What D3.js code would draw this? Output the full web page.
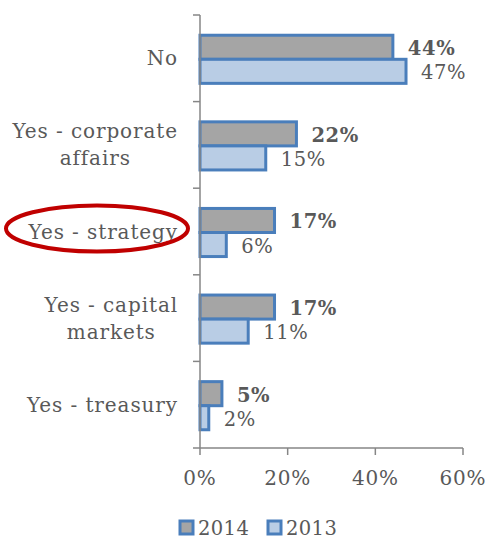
<!DOCTYPE html>
<html>
<head>
<meta charset="utf-8">
<script src="https://cdn.jsdelivr.net/npm/d3@7"></script>
<style>
  html, body { margin: 0; padding: 0; background: #fff; }
  svg text { font-family: "DejaVu Serif", "Liberation Serif", serif; fill: #595959; }
</style>
</head>
<body>
<svg id="chart" width="489" height="539"></svg>
<script>
// Survey answers, top to bottom
const categories = ["No", "Yes - corporate affairs", "Yes - strategy", "Yes - capital markets", "Yes - treasury"];
// Two-line wrapping of the category labels
const categoryLines = [["No"], ["Yes - corporate", "affairs"], ["Yes - strategy"], ["Yes - capital", "markets"], ["Yes - treasury"]];
const seriesNames = ["2014", "2013"];
const values2014 = [44, 22, 17, 17, 5];
const values2013 = [47, 15, 6, 11, 2];
const xTicks = [0, 20, 40, 60];
const highlighted = "Yes - strategy";

const svg = d3.select("#chart");
const fills = { "2014": "#a5a5a5", "2013": "#b9cde5" };
const strokeColor = "#4a7ebb";
const axisColor = "#868686";

const margin = { left: 200, right: 26, top: 15, bottom: 91 };
const W = 489, H = 539;

const x = d3.scaleLinear().domain([0, 60]).range([margin.left, W - margin.right]);
const y0 = d3.scaleBand().domain(categories).range([margin.top, H - margin.bottom]).padding(0);
const y1 = d3.scaleBand().domain(seriesNames).range([0, y0.bandwidth()]).paddingInner(0).paddingOuter(0.8);

const rows = categories.map((c, i) => ({
  cat: c,
  lines: categoryLines[i],
  vals: [
    { s: "2014", v: values2014[i] },
    { s: "2013", v: values2013[i] }
  ]
}));

// Bars
const g = svg.append("g");
const grp = g.selectAll("g.cat").data(rows).join("g")
  .attr("transform", d => `translate(0,${y0(d.cat) + 1})`);

grp.selectAll("rect").data(d => d.vals).join("rect")
  .attr("x", x(0))
  .attr("y", d => y1(d.s))
  .attr("width", d => x(d.v) - x(0))
  .attr("height", y1.bandwidth())
  .attr("fill", d => fills[d.s])
  .attr("stroke", strokeColor)
  .attr("stroke-width", 3);

// Value labels
grp.selectAll("text.val").data(d => d.vals).join("text")
  .attr("class", "val")
  .attr("x", d => x(d.v) + 15)
  .attr("y", d => y1(d.s) + y1.bandwidth() / 2 + 8)
  .attr("font-size", 19.5)
  .attr("letter-spacing", 0.6)
  .attr("font-weight", d => d.s === "2014" ? "bold" : "normal")
  .text(d => d.v + "%");

// Y axis line and ticks
const yAxis = svg.append("g");
yAxis.append("line")
  .attr("x1", x(0)).attr("x2", x(0))
  .attr("y1", margin.top).attr("y2", H - margin.bottom)
  .attr("stroke", axisColor).attr("stroke-width", 1.5);
yAxis.selectAll("line.tick").data(categories.map(c => y0(c))).join("line")
  .attr("class", "tick")
  .attr("x1", x(0) - 7).attr("x2", x(0))
  .attr("y1", d => d).attr("y2", d => d)
  .attr("stroke", axisColor).attr("stroke-width", 1.5);

// Category labels: block right-aligned to the axis, lines centred within the block
const labelRight = 178;
const catLabels = svg.append("g").selectAll("text").data(rows).join("text")
  .attr("text-anchor", "middle")
  .attr("font-size", 20)
  .attr("letter-spacing", 0.9)
  .attr("y", d => y0(d.cat) + y0.bandwidth() / 2 + 7 - (d.lines.length - 1) * 13.5);
catLabels.selectAll("tspan").data(d => d.lines).join("tspan")
  .attr("dy", (d, i) => i === 0 ? 0 : 27)
  .text(d => d);
catLabels.each(function () {
  const spans = d3.select(this).selectAll("tspan");
  let maxW = 0;
  spans.each(function () { maxW = Math.max(maxW, this.getComputedTextLength()); });
  spans.attr("x", labelRight - maxW / 2);
});

// X axis
const xAxisG = svg.append("g");
const xBase = H - margin.bottom;
xAxisG.append("line")
  .attr("x1", x(0) - 7).attr("x2", x(60))
  .attr("y1", xBase).attr("y2", xBase)
  .attr("stroke", axisColor).attr("stroke-width", 1.5);
xAxisG.selectAll("line.tick").data(xTicks).join("line")
  .attr("class", "tick")
  .attr("x1", d => x(d)).attr("x2", d => x(d))
  .attr("y1", xBase).attr("y2", xBase + 7)
  .attr("stroke", axisColor).attr("stroke-width", 1.5);
xAxisG.selectAll("text").data(xTicks).join("text")
  .attr("x", d => x(d))
  .attr("y", xBase + 37)
  .attr("text-anchor", "middle")
  .attr("font-size", 20)
  .attr("letter-spacing", 0.8)
  .text(d => d + "%");

// Legend
const legend = svg.append("g");
const legendItems = [{ s: "2014", x: 180 }, { s: "2013", x: 268 }];
legend.selectAll("rect").data(legendItems).join("rect")
  .attr("x", d => d.x).attr("y", 521)
  .attr("width", 13).attr("height", 13)
  .attr("fill", d => fills[d.s])
  .attr("stroke", strokeColor).attr("stroke-width", 3);
legend.selectAll("text").data(legendItems).join("text")
  .attr("x", d => d.x + 18).attr("y", 535)
  .attr("font-size", 19.5)
  .attr("letter-spacing", 0.4)
  .text(d => d.s);

// Red highlight ring around one category label
const hy = y0(highlighted) + y0.bandwidth() / 2 - 3;
svg.append("ellipse")
  .attr("cx", 97).attr("cy", hy)
  .attr("rx", 91).attr("ry", 23)
  .attr("fill", "none")
  .attr("stroke", "#c00000")
  .attr("stroke-width", 4);
</script>
</body>
</html>
